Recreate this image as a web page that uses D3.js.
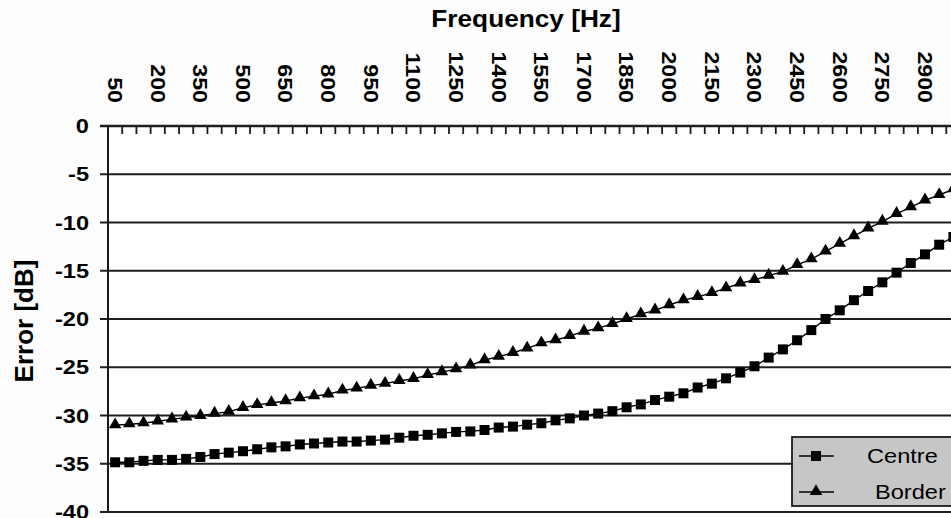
<!DOCTYPE html>
<html>
<head>
<meta charset="utf-8">
<script src="https://cdn.jsdelivr.net/npm/d3@7"></script>
<style>
  html, body { margin: 0; padding: 0; background: #fdfdfd; }
  svg { display: block; font-family: Arial, "Liberation Sans", sans-serif; }
</style>
</head>
<body>
<svg id="chart" width="951" height="518"></svg>
<script>
// 50 Hz steps, 50..3000 Hz
const frequencies = [
  50, 100, 150, 200, 250, 300, 350, 400, 450, 500,
  550, 600, 650, 700, 750, 800, 850, 900, 950, 1000,
  1050, 1100, 1150, 1200, 1250, 1300, 1350, 1400, 1450, 1500,
  1550, 1600, 1650, 1700, 1750, 1800, 1850, 1900, 1950, 2000,
  2050, 2100, 2150, 2200, 2250, 2300, 2350, 2400, 2450, 2500,
  2550, 2600, 2650, 2700, 2750, 2800, 2850, 2900, 2950, 3000
];

const centreError = [
  -34.85, -34.85, -34.7, -34.6, -34.6, -34.5, -34.3, -34.0, -33.85, -33.7,
  -33.5, -33.3, -33.2, -33.0, -32.9, -32.8, -32.7, -32.7, -32.6, -32.5,
  -32.3, -32.1, -32.0, -31.85, -31.7, -31.65, -31.5, -31.25, -31.15, -30.95,
  -30.8, -30.5, -30.3, -30.0, -29.8, -29.55, -29.15, -28.85, -28.4, -28.05,
  -27.7, -27.1, -26.7, -26.15, -25.55, -24.9, -24.0, -23.15, -22.2, -21.15,
  -20.0, -19.1, -18.05, -17.1, -16.2, -15.2, -14.2, -13.3, -12.3, -11.5
];

const borderError = [
  -31.0, -30.9, -30.8, -30.6, -30.4, -30.2, -30.05, -29.8, -29.6, -29.2,
  -28.9, -28.7, -28.5, -28.2, -28.0, -27.8, -27.4, -27.2, -26.9, -26.7,
  -26.4, -26.2, -25.8, -25.5, -25.2, -24.8, -24.25, -23.9, -23.5, -23.05,
  -22.5, -22.2, -21.75, -21.3, -20.95, -20.5, -20.0, -19.5, -19.1, -18.55,
  -18.05, -17.7, -17.3, -16.8, -16.3, -15.95, -15.5, -15.1, -14.4, -13.8,
  -13.0, -12.2, -11.4, -10.6, -9.9, -9.1, -8.4, -7.7, -7.15, -6.55
];

const xTickLabels = [50, 200, 350, 500, 650, 800, 950, 1100, 1250, 1400,
  1550, 1700, 1850, 2000, 2150, 2300, 2450, 2600, 2750, 2900];
const yTicks = [0, -5, -10, -15, -20, -25, -30, -35, -40];

const series = [
  { name: "Centre", values: centreError, marker: "square" },
  { name: "Border", values: borderError, marker: "triangle" }
];

const svg = d3.select("#chart");
const plot = { left: 108, right: 960.5, top: 126, bottom: 512 };

const x = d3.scaleBand().domain(frequencies).range([plot.left, plot.right]).padding(0);
const cx = f => x(f) + x.bandwidth() / 2;
const y = d3.scaleLinear().domain([-40, 0]).range([plot.bottom, plot.top]);

// plot background
svg.append("rect")
  .attr("x", plot.left).attr("y", plot.top)
  .attr("width", plot.right - plot.left).attr("height", plot.bottom - plot.top)
  .attr("fill", "#ffffff");

// horizontal gridlines (extend a little left of the axis like tick marks)
svg.append("g")
  .selectAll("line")
  .data(yTicks)
  .enter()
  .append("line")
  .attr("x1", plot.left - 8)
  .attr("x2", plot.right)
  .attr("y1", d => y(d))
  .attr("y2", d => y(d))
  .attr("stroke", "#1f1f1f")
  .attr("stroke-width", d => (d === 0 ? 2.4 : 1.8));

// left axis line
svg.append("line")
  .attr("x1", plot.left).attr("x2", plot.left)
  .attr("y1", plot.top).attr("y2", plot.bottom)
  .attr("stroke", "#1a1a1a").attr("stroke-width", 2);

// category boundary ticks hanging from the 0 line
svg.append("g")
  .selectAll("line")
  .data(frequencies.slice(1))
  .enter()
  .append("line")
  .attr("x1", d => x(d))
  .attr("x2", d => x(d))
  .attr("y1", y(0))
  .attr("y2", y(0) + 8)
  .attr("stroke", "#1a1a1a")
  .attr("stroke-width", 1.8);

// y tick labels (glyphs look a bit wide in the original)
svg.append("g")
  .selectAll("text")
  .data(yTicks)
  .enter()
  .append("text")
  .attr("transform", d => `translate(89,${y(d)}) scale(1.18,1)`)
  .attr("dy", "0.36em")
  .attr("text-anchor", "end")
  .style("font-size", "20px")
  .style("font-weight", "bold")
  .text(d => d);

// x tick labels, rotated to read downwards
svg.append("g")
  .selectAll("text")
  .data(xTickLabels)
  .enter()
  .append("text")
  .attr("transform", d => `translate(${cx(d)},103) rotate(90) scale(1.16,1)`)
  .attr("dy", "0.36em")
  .attr("text-anchor", "end")
  .style("font-size", "20px")
  .style("font-weight", "bold")
  .text(d => d);

// axis titles
svg.append("text")
  .attr("transform", "translate(526,27) scale(1.14,1)")
  .attr("text-anchor", "middle")
  .style("font-size", "23px")
  .style("font-weight", "bold")
  .text("Frequency [Hz]");

svg.append("text")
  .attr("transform", `translate(33,${(plot.top + plot.bottom) / 2 + 2}) rotate(-90)`)
  .attr("text-anchor", "middle")
  .style("font-size", "26px")
  .style("font-weight", "bold")
  .text("Error [dB]");

const line = d3.line()
  .x((d, i) => cx(frequencies[i]))
  .y(d => y(d));

const triangle = d3.symbol().type(d3.symbolTriangle).size(68);

function drawMarker(sel, marker) {
  if (marker === "square") {
    sel.append("rect")
      .attr("x", -5).attr("y", -5)
      .attr("width", 10).attr("height", 10)
      .attr("fill", "#000");
  } else {
    sel.append("path")
      .attr("d", triangle)
      .attr("transform", "translate(0,-0.5)")
      .attr("fill", "#000");
  }
}

series.forEach(s => {
  svg.append("path")
    .datum(s.values)
    .attr("fill", "none")
    .attr("stroke", "#000")
    .attr("stroke-width", 1.4)
    .attr("d", line);

  svg.append("g")
    .selectAll("g")
    .data(s.values)
    .enter()
    .append("g")
    .attr("transform", (d, i) => `translate(${cx(frequencies[i])},${y(d)})`)
    .each(function () { drawMarker(d3.select(this), s.marker); });
});

// legend
const legend = svg.append("g").attr("transform", "translate(792,437)");
legend.append("rect")
  .attr("width", 170).attr("height", 69)
  .attr("fill", "#c6c6c6")
  .attr("stroke", "#1a1a1a")
  .attr("stroke-width", 1.8);

series.forEach((s, i) => {
  const row = legend.append("g").attr("transform", `translate(0,${19 + i * 36})`);
  row.append("line")
    .attr("x1", 7).attr("x2", 42)
    .attr("stroke", "#000").attr("stroke-width", 1.4);
  drawMarker(row.append("g").attr("transform", "translate(24,0)"), s.marker);
  row.append("text")
    .attr("transform", `translate(${i === 0 ? 75 : 83},0) scale(1.18,1)`)
    .attr("dy", "0.36em")
    .style("font-size", "20px")
    .text(s.name);
});
</script>
</body>
</html>
